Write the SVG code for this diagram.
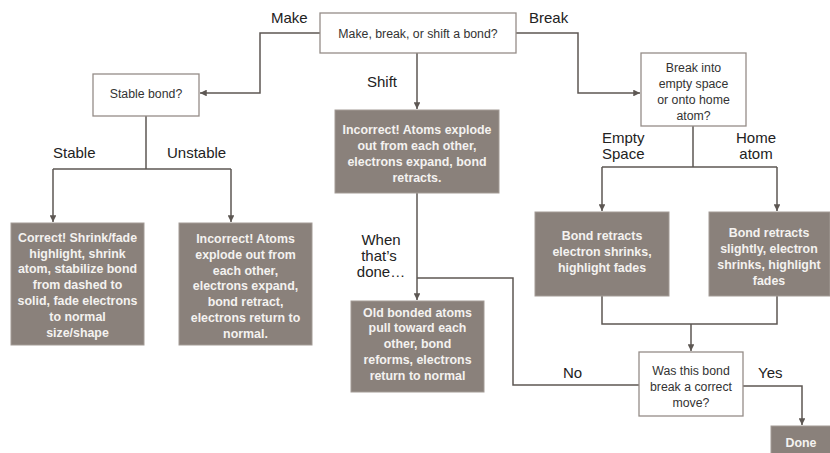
<svg xmlns="http://www.w3.org/2000/svg" width="830" height="453" viewBox="0 0 830 453">
<defs>
<style>
.q{fill:#ffffff;stroke:#958d88;stroke-width:1.3}
.g{fill:#8a817b;stroke:#a39b96;stroke-width:1}
.qt{font-family:"Liberation Sans",Arial,sans-serif;font-size:12.3px;fill:#333;text-anchor:middle}
.gt{font-family:"Liberation Sans",Arial,sans-serif;font-size:12.4px;font-weight:bold;fill:#f4f2f0;text-anchor:middle}
.lb{font-family:"Liberation Sans",Arial,sans-serif;font-size:15px;fill:#222}
.c{fill:none;stroke:#5d5753;stroke-width:1.5}
</style>
<marker id="ah" viewBox="0 0 10 10" refX="10" refY="5" markerWidth="4.5" markerHeight="4.5" orient="auto" markerUnits="strokeWidth">
<path d="M0,0 L10,5 L0,10 z" fill="#5d5753"/>
</marker>
</defs>
<rect width="830" height="453" fill="#ffffff"/>

<g id="connectors">
<polyline class="c" points="320,33 260,33 260,93 200,93" marker-end="url(#ah)"/>
<polyline class="c" points="516,33 578,33 578,93 640,93" marker-end="url(#ah)"/>
<polyline class="c" points="417,53 417,109" marker-end="url(#ah)"/>
<polyline class="c" points="146,116 146,169"/>
<polyline class="c" points="53,169 231,169"/>
<polyline class="c" points="53,169 53,222" marker-end="url(#ah)"/>
<polyline class="c" points="231,169 231,222" marker-end="url(#ah)"/>
<polyline class="c" points="417,193 417,300" marker-end="url(#ah)"/>
<polyline class="c" points="417,278 513,278 513,385 639,385"/>
<polyline class="c" points="693,126 693,167"/>
<polyline class="c" points="602,167 777,167"/>
<polyline class="c" points="602,167 602,211" marker-end="url(#ah)"/>
<polyline class="c" points="777,167 777,211" marker-end="url(#ah)"/>
<polyline class="c" points="602,296 602,324 777,324 777,296"/>
<polyline class="c" points="691,324 691,351" marker-end="url(#ah)"/>
<polyline class="c" points="743,386 802,386 802,425" marker-end="url(#ah)"/>
</g>

<g id="labels">
<text class="lb" x="271" y="23">Make</text>
<text class="lb" x="529" y="23">Break</text>
<text class="lb" x="367" y="87">Shift</text>
<text class="lb" x="53" y="158">Stable</text>
<text class="lb" x="167" y="158">Unstable</text>
<text class="lb" x="602" y="143">Empty</text>
<text class="lb" x="602" y="159">Space</text>
<text class="lb" x="756" y="143" text-anchor="middle">Home</text>
<text class="lb" x="756" y="159" text-anchor="middle">atom</text>
<text class="lb" x="381" y="245" text-anchor="middle">When</text>
<text class="lb" x="379" y="261" text-anchor="middle">that’s</text>
<text class="lb" x="381" y="277" text-anchor="middle">done…</text>
<text class="lb" x="563" y="378">No</text>
<text class="lb" x="758" y="378">Yes</text>
</g>

<g id="n-start">
<rect class="q" x="320" y="13" width="196" height="40"/>
<text class="qt" x="418" y="37.5">Make, break, or shift a bond?</text>
</g>

<g id="n-stable">
<rect class="q" x="93" y="74" width="106" height="42"/>
<text class="qt" x="146" y="97.5">Stable bond?</text>
</g>

<g id="n-breakq">
<rect class="q" x="641" y="53" width="105" height="73"/>
<text class="qt" x="693.5" y="71.5">Break into</text>
<text class="qt" x="693.5" y="87.5">empty space</text>
<text class="qt" x="693.5" y="103.5">or onto home</text>
<text class="qt" x="693.5" y="119.5">atom?</text>
</g>

<g id="n-shift">
<rect class="g" x="335" y="110" width="164" height="83"/>
<text class="gt" x="417" y="133.5">Incorrect! Atoms explode</text>
<text class="gt" x="417" y="149.5">out from each other,</text>
<text class="gt" x="417" y="165.5">electrons expand, bond</text>
<text class="gt" x="417" y="181.5">retracts.</text>
</g>

<g id="n-correct">
<rect class="g" x="11" y="223" width="133" height="122"/>
<text class="gt" x="77.5" y="241.5">Correct! Shrink/fade</text>
<text class="gt" x="77.5" y="257.5">highlight, shrink</text>
<text class="gt" x="77.5" y="273">atom, stabilize bond</text>
<text class="gt" x="77.5" y="288.5">from dashed to</text>
<text class="gt" x="77.5" y="304.5">solid, fade electrons</text>
<text class="gt" x="77.5" y="320.5">to normal</text>
<text class="gt" x="77.5" y="336.5">size/shape</text>
</g>

<g id="n-unstable">
<rect class="g" x="179" y="223" width="133" height="122"/>
<text class="gt" x="245.5" y="242.5">Incorrect! Atoms</text>
<text class="gt" x="245.5" y="258.5">explode out from</text>
<text class="gt" x="245.5" y="274.5">each other,</text>
<text class="gt" x="245.5" y="290">electrons expand,</text>
<text class="gt" x="245.5" y="305.5">bond retract,</text>
<text class="gt" x="245.5" y="321.5">electrons return to</text>
<text class="gt" x="245.5" y="337.5">normal.</text>
</g>

<g id="n-old">
<rect class="g" x="351" y="301" width="133" height="91"/>
<text class="gt" x="417.5" y="316.5">Old bonded atoms</text>
<text class="gt" x="417.5" y="331.5">pull toward each</text>
<text class="gt" x="417.5" y="347.5">other, bond</text>
<text class="gt" x="417.5" y="363.5">reforms, electrons</text>
<text class="gt" x="417.5" y="379.5">return to normal</text>
</g>

<g id="n-empty">
<rect class="g" x="535" y="212" width="134" height="84"/>
<text class="gt" x="602" y="239.5">Bond retracts</text>
<text class="gt" x="602" y="255.5">electron shrinks,</text>
<text class="gt" x="602" y="271.5">highlight fades</text>
</g>

<g id="n-home">
<rect class="g" x="709" y="212" width="121" height="84"/>
<text class="gt" x="769" y="236.5">Bond retracts</text>
<text class="gt" x="769" y="252.5">slightly, electron</text>
<text class="gt" x="769" y="268.5">shrinks, highlight</text>
<text class="gt" x="769" y="284.5">fades</text>
</g>

<g id="n-was">
<rect class="q" x="639" y="352" width="104" height="64"/>
<text class="qt" x="691" y="374.5">Was this bond</text>
<text class="qt" x="691" y="390.5">break a correct</text>
<text class="qt" x="691" y="406.5">move?</text>
</g>

<g id="n-done">
<rect class="g" x="771" y="426" width="60" height="28"/>
<text class="gt" x="801" y="446.5">Done</text>
</g>
</svg>
